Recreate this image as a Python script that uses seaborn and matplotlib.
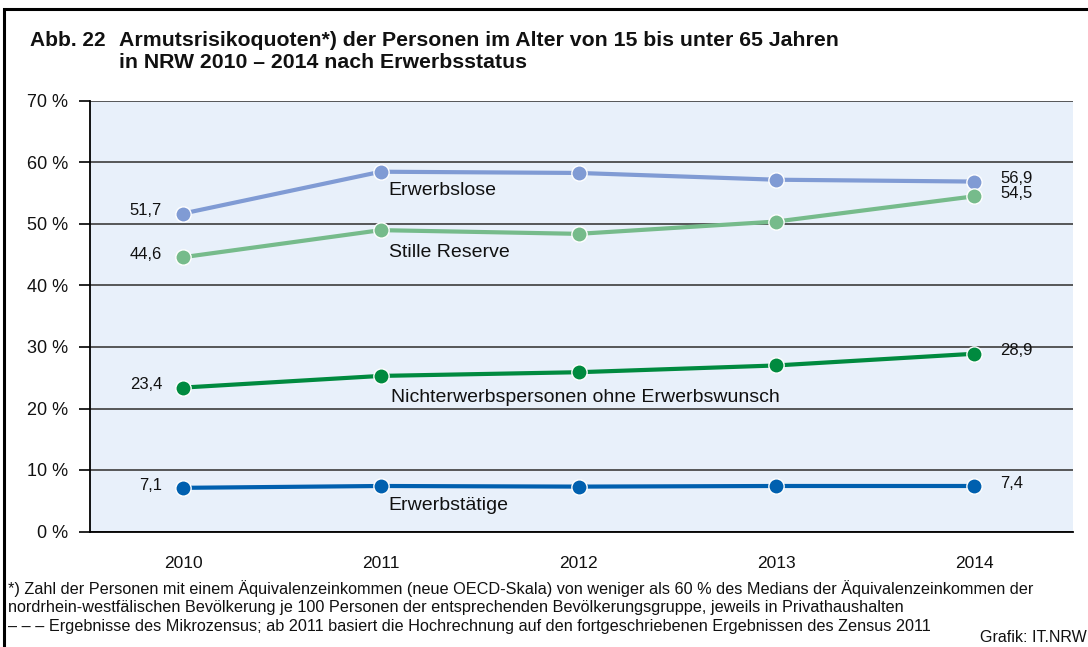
import matplotlib
matplotlib.use("Agg")
import matplotlib.pyplot as plt
import seaborn as sns
import pandas as pd
from matplotlib.patches import Rectangle

years = [2010, 2011, 2012, 2013, 2014]
erwerbslose = [51.7, 58.5, 58.3, 57.2, 56.9]
stille_reserve = [44.6, 49.0, 48.4, 50.4, 54.5]
nichterwerbs = [23.4, 25.3, 25.9, 27.0, 28.9]
erwerbstaetige = [7.1, 7.4, 7.3, 7.4, 7.4]

series_names = ["Erwerbslose", "Stille Reserve",
                "Nichterwerbspersonen ohne Erwerbswunsch", "Erwerbstätige"]
series_values = [erwerbslose, stille_reserve, nichterwerbs, erwerbstaetige]
colors = ["#809bd4", "#76bb8b", "#008a3f", "#0060af"]
ytick_vals = [0, 10, 20, 30, 40, 50, 60, 70]
ytick_labels = ["0 %", "10 %", "20 %", "30 %", "40 %", "50 %", "60 %", "70 %"]

sns.set_theme(style="white")
plt.rcParams['font.family'] = ['Liberation Sans', 'DejaVu Sans']

rows = []
for name, vals in zip(series_names, series_values):
    for y, v in zip(years, vals):
        rows.append({"Jahr": y, "Quote": v, "Gruppe": name})
df = pd.DataFrame(rows)

fig = plt.figure(figsize=(10.88, 6.47), dpi=100)
fig.patch.set_facecolor("white")
# outer frame
fig.patches.append(Rectangle((4/1088, -0.05), 1.2, 1 - 9/647 + 0.05, transform=fig.transFigure,
                             fill=False, edgecolor="black", linewidth=2.2))

ax = fig.add_axes([90/1088, 1 - 531.5/647, (1073 - 90)/1088, (531.5 - 101)/647])
ax.set_facecolor("#e8f0fa")

for name, vals, c in zip(series_names, series_values, colors):
    sub = df[df["Gruppe"] == name]
    sns.lineplot(data=sub, x="Jahr", y="Quote", ax=ax, color=c, linewidth=3.0,
                 marker="o", markersize=11, markeredgecolor="white",
                 markeredgewidth=1.0, legend=False, zorder=3)

ax.set_xlim(2009.53, 2014.5)
ax.set_ylim(0, 70)
ax.set_yticks(ytick_vals)
ax.set_yticklabels(ytick_labels)
ax.set_xticks(years)
ax.set_xticklabels([str(y) for y in years])
ax.set_xlabel("")
ax.set_ylabel("")
ax.yaxis.grid(True, color="#4a4a4a", linewidth=1.3)
ax.set_axisbelow(True)
for s in ["top", "right"]:
    ax.spines[s].set_visible(False)
ax.spines["left"].set_color("black")
ax.spines["left"].set_linewidth(1.3)
ax.spines["bottom"].set_color("black")
ax.spines["bottom"].set_linewidth(1.3)
ax.tick_params(axis="y", which="major", left=True, length=8, width=1.2,
               color="black", labelsize=13, pad=8, labelcolor="#111111")
ax.tick_params(axis="x", which="major", bottom=False, labelsize=12.5, pad=12,
               labelcolor="#111111")

# value labels
for vals in series_values:
    ax.annotate(f"{vals[0]:.1f}".replace(".", ","), (years[0], vals[0]),
                xytext=(-15, 2), textcoords="offset points", ha="right", va="center",
                fontsize=12, color="#111111")
    ax.annotate(f"{vals[-1]:.1f}".replace(".", ","), (years[-1], vals[-1]),
                xytext=(19, 2), textcoords="offset points", ha="left", va="center",
                fontsize=12, color="#111111")

# series name labels
label_pos = [(2011.04, 55.5), (2011.04, 45.3), (2011.05, 21.8), (2011.04, 4.2)]
for name, (lx, ly) in zip(series_names, label_pos):
    ax.text(lx, ly, name, ha="left", va="center", fontsize=14, color="#111111")

# title
fig.text(30/1088, 1 - 40/647, "Abb. 22", fontsize=15, fontweight="bold",
         ha="left", va="center", color="#111111")
fig.text(119/1088, 1 - 40/647, "Armutsrisikoquoten*) der Personen im Alter von 15 bis unter 65 Jahren",
         fontsize=15.3, fontweight="bold", ha="left", va="center", color="#111111")
fig.text(119/1088, 1 - 62/647, "in NRW 2010 – 2014 nach Erwerbsstatus",
         fontsize=15.3, fontweight="bold", ha="left", va="center", color="#111111")

# footnotes
foot = ["*) Zahl der Personen mit einem Äquivalenzeinkommen (neue OECD-Skala) von weniger als 60 % des Medians der Äquivalenzeinkommen der",
        "nordrhein-westfälischen Bevölkerung je 100 Personen der entsprechenden Bevölkerungsgruppe, jeweils in Privathaushalten",
        "– – – Ergebnisse des Mikrozensus; ab 2011 basiert die Hochrechnung auf den fortgeschriebenen Ergebnissen des Zensus 2011"]
for i, t in enumerate(foot):
    fig.text(8/1088, 1 - (589 + i * 18.5)/647, t, fontsize=11.7, ha="left", va="center",
             color="#111111")
fig.text(980/1088, 1 - 638/647, "Grafik: IT.NRW", fontsize=11.5, ha="left", va="center",
         color="#111111")

fig.savefig("out.png", dpi=100)
